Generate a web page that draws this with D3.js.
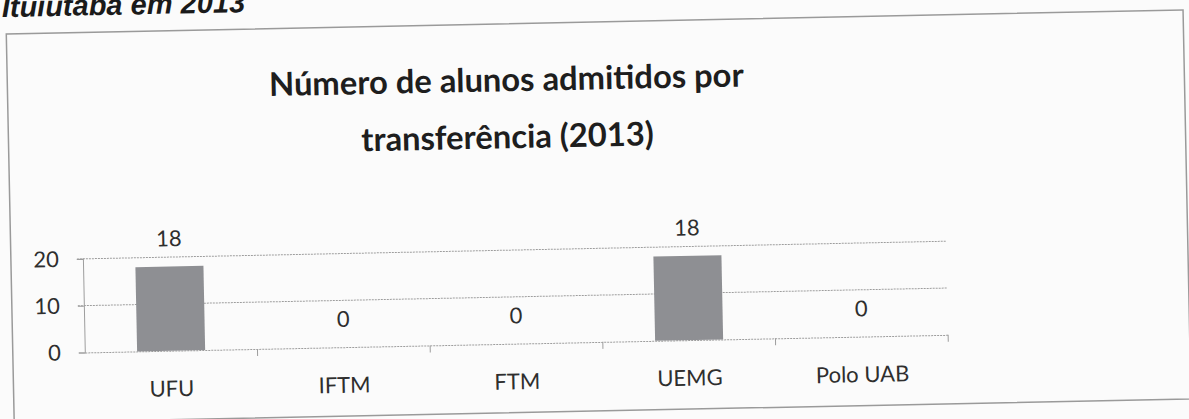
<!DOCTYPE html>
<html>
<head>
<meta charset="utf-8">
<script src="https://cdn.jsdelivr.net/npm/d3@7/dist/d3.min.js"></script>
<style>
  html, body { margin: 0; padding: 0; background: #fbfbfb; }
  svg { display: block; }
</style>
</head>
<body>
<svg id="chart" width="1189" height="419"></svg>
<script>
const categories = ["UFU", "IFTM", "FTM", "UEMG", "Polo UAB"];
const values = [18, 0, 0, 18, 0];
const yTicks = [0, 10, 20];
const titleLines = ["Número de alunos admitidos por", "transferência (2013)"];
const docText = "Ituiutaba em 2013";

const svg = d3.select("#chart");
const g = svg.append("g").attr("transform", "rotate(-1.17, 595, 210)");

// document text above chart (cut by page top, as in the scan)
g.append("text")
  .attr("x", 6).attr("y", 5)
  .attr("font-family", "Liberation Sans, Arial, sans-serif")
  .attr("font-weight", "bold").attr("font-style", "italic")
  .attr("font-size", 29).attr("fill", "#1a1a1a")
  .text(docText);

// chart frame
g.append("rect")
  .attr("x", 10).attr("y", 22).attr("width", 1177).attr("height", 389)
  .attr("fill", "none").attr("stroke", "#9a9a9a").attr("stroke-width", 1.5);

const plot = { left: 82, right: 945.5, top: 248.4, bottom: 342 };
const x = d3.scaleBand().domain(categories).range([plot.left, plot.right]).paddingInner(0.606).paddingOuter(0.303);
const xb = d3.scaleBand().domain(categories).range([plot.left, plot.right]);
const y = d3.scaleLinear().domain([0, 20]).range([plot.bottom, plot.top]);

const font = "Lato, 'Open Sans', sans-serif";
const txt = "#2e2e2e";

// gridlines
g.append("g").selectAll("line").data(yTicks.filter(d => d > 0)).join("line")
  .attr("x1", plot.left - 6).attr("x2", plot.right)
  .attr("y1", d => y(d)).attr("y2", d => y(d))
  .attr("stroke", "#9d9d9d").attr("stroke-width", 1)
  .attr("stroke-dasharray", "2,1");

// y axis
const yAxis = g.append("g").attr("transform", `translate(${plot.left},0)`)
  .call(d3.axisLeft(y).tickValues(yTicks).tickSize(6).tickPadding(18).tickFormat(d3.format("d")));
yAxis.select(".domain").attr("stroke", "#9d9d9d");
yAxis.selectAll(".tick line").attr("stroke", "#9d9d9d");
yAxis.selectAll("text").attr("font-family", font).attr("font-size", 22).attr("fill", txt);

// x axis
const xAxis = g.append("g").attr("transform", `translate(0,${plot.bottom})`)
  .call(d3.axisBottom(xb).tickSize(0).tickPadding(30));
xAxis.select(".domain").attr("stroke", "#9d9d9d").attr("stroke-dasharray", "2,1");
xAxis.selectAll("text").attr("font-family", font).attr("font-size", 22).attr("fill", txt);
// category boundary ticks
const bounds = categories.map(c => xb(c)).concat([plot.right]);
g.append("g").selectAll("line").data(bounds.slice(1)).join("line")
  .attr("x1", d => d).attr("x2", d => d)
  .attr("y1", plot.bottom).attr("y2", plot.bottom + 7)
  .attr("stroke", "#9d9d9d");

// bars
g.append("g").selectAll("rect").data(values).join("rect")
  .attr("x", (d, i) => x(categories[i]))
  .attr("width", x.bandwidth())
  .attr("y", d => y(d))
  .attr("height", d => y(0) - y(d))
  .attr("fill", "#8e8f93");

// data labels
g.append("g").selectAll("text").data(values).join("text")
  .attr("x", (d, i) => x(categories[i]) + x.bandwidth() / 2)
  .attr("y", d => y(d) - 28)
  .attr("dy", "0.35em")
  .attr("text-anchor", "middle")
  .attr("font-family", font).attr("font-size", 22).attr("fill", txt)
  .text(d => d);

// title
const titleCx = 509;
const t = g.append("g");
const tl = t.selectAll("text").data(titleLines).join("text")
  .attr("x", titleCx)
  .attr("y", (d, i) => [78, 135][i])
  .attr("dy", "0.35em")
  .attr("text-anchor", "middle")
  .attr("font-family", font).attr("font-weight", "bold")
  .attr("font-size", 34).attr("fill", "#1e1e1e")
  .text(d => d);
const w = tl.node().getComputedTextLength();
if (w > 0) tl.attr("font-size", 34 * 475 / w);
</script>
</body>
</html>
